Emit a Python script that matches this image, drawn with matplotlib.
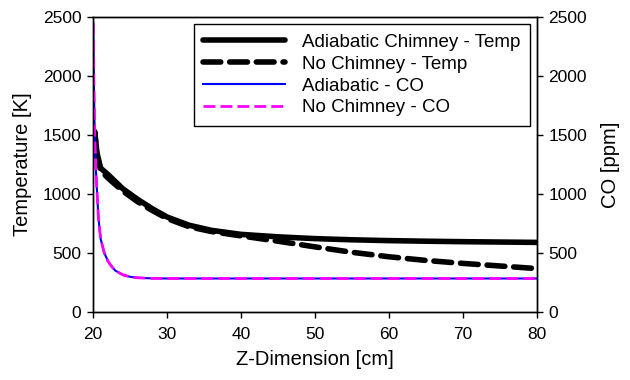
import numpy as np
import matplotlib.pyplot as plt

plt.rcParams['font.family'] = ['Liberation Sans', 'DejaVu Sans']

# temperature profiles [K] along z [cm]
z_temp = [20.0, 20.2, 20.5, 21, 22, 24, 26, 28, 30, 33, 36, 40, 45, 50, 55, 60, 65, 70, 75, 80]
temp_chimney = [1450, 1530, 1350, 1220, 1165, 1045, 955, 875, 805, 735, 692, 658, 637, 622, 612, 605, 600, 596, 593, 590]
temp_no_chimney = [1450, 1520, 1320, 1200, 1135, 1025, 935, 860, 792, 722, 682, 645, 600, 552, 506, 468, 437, 412, 390, 368]

# CO profiles [ppm]
z_co = [20.0, 20.1, 20.2, 20.4, 20.7, 21, 21.5, 22, 22.5, 23, 24, 25, 26, 28, 30, 40, 50, 60, 70, 80]
co_adiabatic = [2450, 1900, 1500, 1150, 800, 620, 500, 430, 385, 350, 315, 298, 290, 285, 284, 284, 284, 284, 284, 284]
co_no_chimney = co_adiabatic

fig, ax = plt.subplots(figsize=(6.3, 3.8), dpi=100)
fig.subplots_adjust(left=0.148, right=0.852, bottom=0.179, top=0.955)
ax2 = ax.twinx()

l1, = ax.plot(z_temp, temp_chimney, color='black', lw=4, solid_capstyle='round')
l2, = ax.plot(z_temp, temp_no_chimney, color='black', lw=4, ls=(0, (3.2, 1.6)), dash_capstyle='round')
l3, = ax2.plot(z_co, co_adiabatic, color='blue', lw=1.5)
l4, = ax2.plot(z_co, co_no_chimney, color='magenta', lw=2, ls=(0, (4.3, 1.8)))

for a in (ax, ax2):
    a.set_ylim(0, 2500)
    a.set_yticks(np.arange(0, 2501, 500))
    a.tick_params(direction='out', length=4.5, labelsize=12.5, width=1, pad=4)
    for s in a.spines.values():
        s.set_linewidth(1)
ax.set_xlim(20, 80)
ax.set_xticks(np.arange(20, 81, 10))
ax.tick_params(axis='x', pad=6)

ax.set_xlabel('Z-Dimension [cm]', fontsize=14.5, labelpad=6)
ax.set_ylabel('Temperature [K]', fontsize=14.5, labelpad=8)
ax2.set_ylabel('CO [ppm]', fontsize=14.5, labelpad=10)

leg = ax2.legend([l1, l2, l3, l4],
                 ['Adiabatic Chimney - Temp', 'No Chimney - Temp', 'Adiabatic - CO', 'No Chimney - CO'],
                 loc='upper right', bbox_to_anchor=(0.985, 0.975), fontsize=13.5, fancybox=False,
                 edgecolor='black', framealpha=1, handlelength=4.4, labelspacing=0.25,
                 borderpad=0.5, handletextpad=0.9, borderaxespad=0)
leg.get_frame().set_linewidth(1)

fig.savefig('out.png', dpi=100)
